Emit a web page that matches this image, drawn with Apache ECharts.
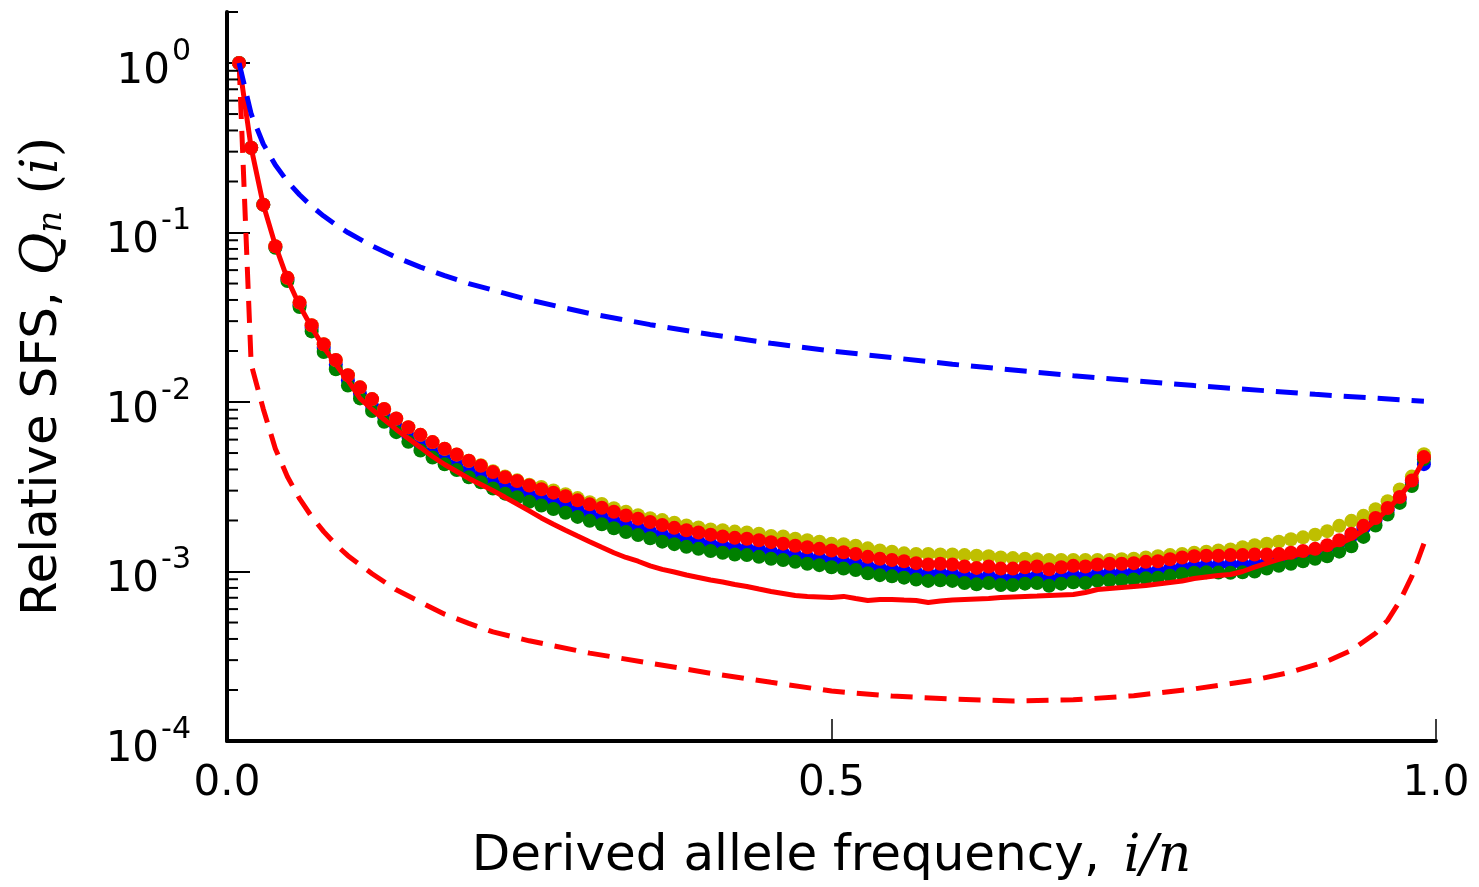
<!DOCTYPE html>
<html>
<head>
<meta charset="utf-8">
<script src="https://cdn.jsdelivr.net/npm/echarts@6/dist/echarts.min.js"></script>
<style>
html,body{margin:0;padding:0;background:#fff;}
#chart{width:1479px;height:887px;}
</style>
</head>
<body>
<div id="chart"></div>
<script>
// Derived allele frequencies i/n, n = 100
const freqs = [
 0.01,0.02,0.03,0.04,0.05,0.06,0.07,0.08,0.09,0.10,
 0.11,0.12,0.13,0.14,0.15,0.16,0.17,0.18,0.19,0.20,
 0.21,0.22,0.23,0.24,0.25,0.26,0.27,0.28,0.29,0.30,
 0.31,0.32,0.33,0.34,0.35,0.36,0.37,0.38,0.39,0.40,
 0.41,0.42,0.43,0.44,0.45,0.46,0.47,0.48,0.49,0.50,
 0.51,0.52,0.53,0.54,0.55,0.56,0.57,0.58,0.59,0.60,
 0.61,0.62,0.63,0.64,0.65,0.66,0.67,0.68,0.69,0.70,
 0.71,0.72,0.73,0.74,0.75,0.76,0.77,0.78,0.79,0.80,
 0.81,0.82,0.83,0.84,0.85,0.86,0.87,0.88,0.89,0.90,
 0.91,0.92,0.93,0.94,0.95,0.96,0.97,0.98,0.99];

// red dots
const redDots = [
 1.0,0.316,0.146,0.083,0.054,0.0386,0.0284,0.0219,0.0177,0.0144,
 0.0122,0.0104,0.0091,0.0080,0.0071,0.0064,0.0058,0.0053,0.0049,0.0045,
 0.0042,0.00386,0.0036,0.00342,0.00322,0.00306,0.00292,0.00278,0.00263,0.00249,
 0.00238,0.00225,0.00214,0.00205,0.00196,0.00188,0.00181,0.00175,0.00170,0.00165,
 0.00161,0.00158,0.00156,0.00153,0.00149,0.00146,0.00142,0.00139,0.00136,0.00133,
 0.00130,0.00127,0.00122,0.00119,0.00117,0.00115,0.00112,0.00110,0.00111,0.00110,
 0.00107,0.00105,0.00107,0.00104,0.00104,0.00106,0.00107,0.00103,0.00106,0.00108,
 0.00107,0.00110,0.00111,0.00111,0.00112,0.00114,0.00115,0.00118,0.00121,0.00123,
 0.00124,0.00124,0.00125,0.00125,0.00126,0.00126,0.00127,0.00129,0.00132,0.00136,
 0.00143,0.00153,0.00167,0.00186,0.00207,0.00237,0.00275,0.00344,0.00473];

// blue dots
const blueDots = [
 1.0,0.316,0.146,0.0822,0.0529,0.0374,0.0273,0.0208,0.0166,0.0134,
 0.0112,0.00946,0.00819,0.00712,0.00625,0.00563,0.00510,0.00466,0.00431,0.00396,
 0.00370,0.00340,0.00317,0.00301,0.00283,0.00269,0.00257,0.00245,0.00231,0.00219,
 0.00209,0.00198,0.00188,0.00180,0.00172,0.00165,0.00159,0.00154,0.00150,0.00145,
 0.00142,0.00139,0.00137,0.00135,0.00131,0.00128,0.00125,0.00122,0.00120,0.00117,
 0.00114,0.00112,0.00107,0.00105,0.00103,0.00101,0.000986,0.000968,0.000977,0.000968,
 0.000942,0.000924,0.000942,0.000915,0.000915,0.000933,0.000942,0.000906,0.000933,0.000950,
 0.000942,0.000968,0.000977,0.000977,0.000986,0.00100,0.00101,0.00104,0.00106,0.00108,
 0.00109,0.00109,0.00110,0.00110,0.00111,0.00113,0.00117,0.00121,0.00127,0.00132,
 0.00139,0.00148,0.00162,0.00180,0.00201,0.00230,0.00267,0.00334,0.00430];

// green dots
const greenDots = [
 1.0,0.316,0.146,0.0813,0.0518,0.0363,0.0261,0.0197,0.0156,0.0125,
 0.0105,0.00884,0.00764,0.00664,0.00582,0.00518,0.00470,0.00429,0.00397,0.00360,
 0.00336,0.00309,0.00288,0.00274,0.00258,0.00245,0.00234,0.00222,0.00210,0.00199,
 0.00190,0.00180,0.00171,0.00164,0.00157,0.00150,0.00145,0.00140,0.00136,0.00132,
 0.00129,0.00126,0.00125,0.00122,0.00119,0.00117,0.00114,0.00111,0.00109,0.00106,
 0.00104,0.00102,0.000976,0.000952,0.000936,0.000920,0.000896,0.000880,0.000888,0.000880,
 0.000856,0.000840,0.000856,0.000832,0.000832,0.000848,0.000856,0.000824,0.000848,0.000864,
 0.000856,0.000880,0.000888,0.000888,0.000896,0.000912,0.000920,0.000944,0.000968,0.000984,
 0.000990,0.000985,0.000983,0.000990,0.00100,0.00104,0.00108,0.00111,0.00115,0.00119,
 0.00123,0.00131,0.00141,0.00160,0.00187,0.00217,0.00254,0.00319,0.00460];

// yellow dots
const yellowDots = [
 1.0,0.316,0.146,0.083,0.054,0.0386,0.0284,0.0219,0.0177,0.0144,
 0.0122,0.0104,0.0091,0.0080,0.0071,0.0064,0.0058,0.0053,0.0049,0.0045,
 0.00424,0.00390,0.00364,0.00345,0.00325,0.00315,0.00301,0.00286,0.00271,0.00256,
 0.00250,0.00236,0.00225,0.00215,0.00206,0.00201,0.00194,0.00187,0.00182,0.00177,
 0.00175,0.00172,0.00170,0.00167,0.00162,0.00161,0.00156,0.00153,0.00150,0.00146,
 0.00145,0.00142,0.00137,0.00133,0.00131,0.00128,0.00127,0.00127,0.00126,0.00126,
 0.00125,0.00124,0.00123,0.00121,0.00120,0.00119,0.00118,0.00117,0.00117,0.00117,
 0.00117,0.00117,0.00117,0.00118,0.00119,0.00121,0.00123,0.00125,0.00127,0.00129,
 0.00131,0.00133,0.00135,0.00139,0.00143,0.00146,0.00150,0.00155,0.00159,0.00165,
 0.00173,0.00186,0.00199,0.00213,0.00233,0.00260,0.00305,0.00363,0.00492];

// red solid line
const redSolid = [
 1.0,0.316,0.146,0.084,0.0532,0.0371,0.0276,0.0210,0.0167,0.0134,
 0.0105,0.00903,0.00789,0.00689,0.0061,0.0054,0.00477,0.00428,0.00389,0.00354,
 0.00326,0.00300,0.00274,0.00250,0.00228,0.00207,0.00190,0.00175,0.00162,0.00150,
 0.00139,0.00129,0.00121,0.00115,0.00108,0.00103,0.000993,0.000953,0.000922,0.000891,
 0.000867,0.000838,0.000816,0.000788,0.000762,0.000742,0.000722,0.000713,0.000708,0.000703,
 0.000713,0.000693,0.000675,0.000684,0.000684,0.000679,0.000675,0.000656,0.000670,0.000679,
 0.000684,0.000689,0.000693,0.000703,0.000708,0.000713,0.000717,0.000722,0.000727,0.000732,
 0.000752,0.000783,0.000794,0.000805,0.000816,0.000827,0.000844,0.000861,0.000879,0.000910,
 0.000929,0.000947,0.000960,0.00100,0.00106,0.00112,0.00118,0.00123,0.00128,0.00132,
 0.00139,0.00146,0.00157,0.00175,0.00200,0.00232,0.00277,0.00340,0.00458];

// red dashed line
const redDashFreqs = [0.01,0.02,0.03,0.04,0.05,0.06,0.07,0.08,0.09,0.10,0.12,0.14,0.16,0.18,0.20,0.22,0.25,0.30,0.35,0.40,0.45,0.50,0.55,0.60,0.65,0.70,0.75,0.80,0.85,0.88,0.91,0.93,0.95,0.96,0.97,0.98,0.99];
const redDash = [1.0,0.0167,0.0091,0.0053,0.00362,0.00269,0.00211,0.00172,0.00144,0.00124,0.00097,0.00078,0.00066,0.00056,0.000494,0.00044,0.00039,0.00033,0.000288,0.000251,0.000222,0.000197,0.000184,0.000177,0.000172,0.000175,0.000185,0.000203,0.000229,0.000255,0.000296,0.000343,0.000432,0.000515,0.000667,0.000935,0.00146];

// blue dashed line
const blueDashFreqs = [0.01,0.02,0.03,0.04,0.05,0.06,0.07,0.08,0.09,0.10,0.12,0.14,0.16,0.18,0.20,0.25,0.30,0.35,0.40,0.45,0.50,0.60,0.70,0.80,0.90,0.99];
const blueDash = [1.0,0.5,0.333,0.25,0.2,0.167,0.143,0.125,0.111,0.1,0.0833,0.0714,0.0625,0.0556,0.05,0.04,0.0333,0.0286,0.025,0.0222,0.02,0.0167,0.0143,0.0125,0.0111,0.0101];

// axis ticks
const xTickInterval = 0.5;
const yMajorTicks = [1e-4, 1e-3, 1e-2, 1e-1, 1];
const yMinorTicks = [
 2e-4,3e-4,4e-4,5e-4,6e-4,7e-4,8e-4,9e-4,
 2e-3,3e-3,4e-3,5e-3,6e-3,7e-3,8e-3,9e-3,
 2e-2,3e-2,4e-2,5e-2,6e-2,7e-2,8e-2,9e-2,
 0.2,0.3,0.4,0.5,0.6,0.7,0.8,0.9,
 2];

const pair = (xs, ys) => xs.map((x, k) => [x, ys[k]]);
const font = 'DejaVu Sans';
const serif = 'DejaVu Serif';

const chart = echarts.init(document.getElementById('chart'), null, {renderer: 'canvas'});

function dots(name, color, vals) {
  return {
    name, type: 'scatter', data: pair(freqs, vals),
    symbol: 'circle', symbolSize: 14,
    itemStyle: {color: color, opacity: 1},
    silent: true, animation: false
  };
}

chart.setOption({
  animation: false,
  backgroundColor: '#fff',
  grid: {left: 227, right: 43, top: 12, bottom: 146, containLabel: false, outerBoundsMode: 'none'},
  xAxis: {
    type: 'value', min: 0, max: 1, interval: xTickInterval,
    axisLine: {show: true, lineStyle: {color: '#000', width: 4}},
    axisTick: {show: true, inside: true, length: 22, lineStyle: {color: '#000', width: 1.5}},
    axisLabel: {
      formatter: v => v.toFixed(1), fontSize: 42, color: '#000', fontFamily: font, margin: 22
    },
    splitLine: {show: false},
    name: 'Derived allele frequency, {it|i/n}',
    nameLocation: 'middle', nameGap: 90,
    nameTextStyle: {
      fontSize: 50, color: '#000', fontFamily: font,
      rich: {it: {fontSize: 52, fontStyle: 'italic', fontFamily: serif, color: '#000', padding: [0, 0, 0, 8]}}
    }
  },
  yAxis: {
    type: 'log', logBase: 10, min: 1e-4, max: 2,
    axisLine: {show: true, lineStyle: {color: '#000', width: 4}},
    axisTick: {show: true, inside: true, length: 23, customValues: yMajorTicks, lineStyle: {color: '#000', width: 2}},
    axisLabel: {
      customValues: yMajorTicks,
      formatter: v => '{b|10}{sup|' + Math.round(Math.log10(v)) + '}',
      color: '#000', fontFamily: font, margin: 36,
      padding: [18, 0, 0, 0],
      rich: {
        b: {fontSize: 42, fontFamily: font, color: '#000'},
        sup: {fontSize: 30, fontFamily: font, color: '#000', verticalAlign: 'top', padding: [0, 0, 40, 2]}
      }
    },
    splitLine: {show: false},
    minorTick: {show: false},
    name: 'Relative SFS, {q|Q}{sub|n}{p| (}{q|i}{p|)}',
    nameLocation: 'middle', nameGap: 158,
    nameTextStyle: {
      fontSize: 50, color: '#000', fontFamily: font,
      rich: {
        q: {fontSize: 52, fontStyle: 'italic', fontFamily: serif, color: '#000'},
        sub: {fontSize: 34, fontStyle: 'italic', fontFamily: serif, color: '#000', verticalAlign: 'bottom'},
        p: {fontSize: 52, fontFamily: serif, color: '#000'}
      }
    }
  },
  series: [
    dots('blue', '#0000ff', blueDots),
    dots('green', '#008000', greenDots),
    dots('yellow', '#bfbf00', yellowDots),
    dots('red', '#ff0000', redDots),
    {
      name: 'red solid', type: 'line', data: pair(freqs, redSolid),
      showSymbol: false, symbol: 'none', lineStyle: {color: '#ff0000', width: 5},
      silent: true, animation: false
    },
    {
      name: 'red dashed', type: 'line', data: pair(redDashFreqs, redDash),
      showSymbol: false, symbol: 'none', lineStyle: {color: '#ff0000', width: 5, type: [22, 12]},
      silent: true, animation: false
    },
    {
      name: 'blue dashed', type: 'line', data: pair(blueDashFreqs, blueDash),
      showSymbol: false, symbol: 'none', lineStyle: {color: '#0000ff', width: 5, type: [22, 12]},
      silent: true, animation: false
    },
    {
      name: 'minor ticks', type: 'custom', coordinateSystem: 'cartesian2d',
      data: yMinorTicks.map(v => [0, v]), clip: false, silent: true, z: 10,
      renderItem: (params, api) => {
        const p = api.coord([api.value(0), api.value(1)]);
        return {type: 'line', shape: {x1: p[0], y1: p[1], x2: p[0] + 11, y2: p[1]},
                style: {stroke: '#000', lineWidth: 2}};
      }
    }
  ]
});
</script>
</body>
</html>
